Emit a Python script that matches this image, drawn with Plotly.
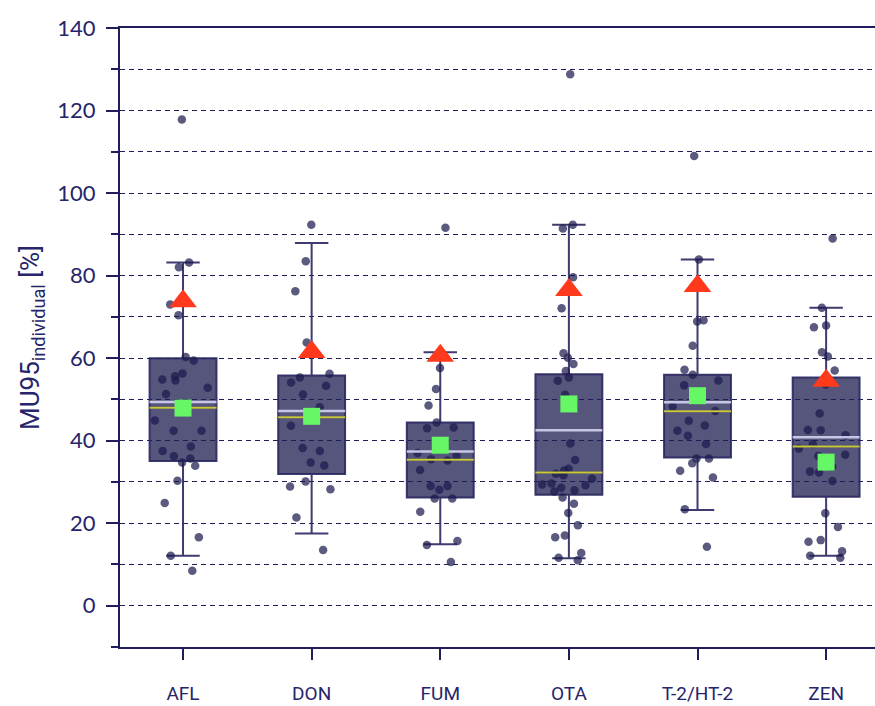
import plotly.graph_objects as go

categories = ["AFL", "DON", "FUM", "OTA", "T-2/HT-2", "ZEN"]

points = {
    "AFL": [117.8, 83.2, 82.0, 74.4, 73.0, 70.4, 60.3, 59.4, 56.3, 55.6, 54.8, 54.6, 52.8, 51.3,
            44.9, 42.4, 42.4, 38.6, 37.5, 36.2, 35.7, 34.7, 33.9, 30.3, 24.9, 16.6, 12.1, 8.5],
    "DON": [92.3, 83.5, 76.2, 63.8, 56.2, 55.3, 54.1, 53.3, 51.2, 48.1, 43.6, 38.2, 37.5, 34.7,
            34.0, 30.1, 28.9, 28.2, 21.4, 13.5],
    "FUM": [91.6, 57.6, 52.5, 48.5, 44.4, 43.2, 43.0, 37.0, 36.3, 35.5, 35.2, 32.9, 29.0, 29.0,
            28.1, 26.0, 26.0, 22.8, 15.7, 14.7, 10.6],
    "OTA": [128.8, 92.3, 91.4, 79.6, 72.1, 61.2, 60.1, 58.6, 56.9, 55.3, 54.5, 51.1, 39.3, 35.3,
            33.2, 32.8, 32.0, 31.6, 30.8, 29.6, 29.4, 29.2, 28.6, 28.0, 27.7, 26.2, 24.7, 22.5,
            19.5, 17.0, 16.6, 12.8, 11.6, 11.0],
    "T-2/HT-2": [109.0, 83.9, 69.2, 68.9, 63.0, 57.2, 56.0, 54.6, 53.4, 48.3, 47.2, 44.8, 43.7,
                 42.4, 41.2, 39.2, 35.7, 35.7, 34.5, 32.7, 31.1, 23.4, 14.3],
    "ZEN": [89.0, 72.2, 67.9, 67.5, 61.4, 60.4, 57.0, 53.6, 46.6, 42.6, 42.5, 41.3, 39.2, 38.1,
            36.6, 36.3, 33.7, 32.5, 32.3, 30.2, 22.4, 19.1, 15.9, 15.5, 13.2, 12.1, 11.6],
}

q1 = [35.1, 31.9, 26.2, 26.9, 35.9, 26.4]
q3 = [60.0, 55.8, 44.4, 56.1, 56.0, 55.3]
lower_whisker = [12.1, 17.5, 14.9, 11.5, 23.2, 12.1]
upper_whisker = [83.2, 87.9, 61.4, 92.3, 83.9, 72.2]
median = [48.0, 45.7, 35.4, 32.3, 47.1, 38.6]        # yellow line
mean = [49.4, 47.2, 37.4, 42.5, 49.3, 40.8]          # lavender line
green_square = [47.9, 45.9, 38.9, 48.9, 50.9, 34.8]
red_triangle = [73.8, 61.5, 60.6, 76.5, 77.5, 54.5]

y_ticks = [0, 20, 40, 60, 80, 100, 120, 140]

NAVY = "#1f1d5c"
TEXT = "#26246a"
BOX_FILL = "rgba(30,28,80,0.75)"
BOX_LINE = "rgba(40,38,95,0.9)"
PT = "rgba(28,26,78,0.72)"
BOX_W = 0.52

xs = list(range(len(categories)))
fig = go.Figure()

for i, c in enumerate(categories):
    fig.add_trace(go.Box(
        x=[i], q1=[q1[i]], q3=[q3[i]], median=[median[i]],
        lowerfence=[lower_whisker[i]], upperfence=[upper_whisker[i]],
        width=BOX_W, whiskerwidth=0.5, fillcolor=BOX_FILL,
        line=dict(color=BOX_LINE, width=2), boxpoints=False,
        showlegend=False, hoverinfo="skip",
    ))

def seg(vals):
    xx, yy = [], []
    for i, v in enumerate(vals):
        xx += [i - BOX_W / 2, i + BOX_W / 2, None]
        yy += [v, v, None]
    return xx, yy

mx, my = seg(mean)
fig.add_trace(go.Scatter(x=mx, y=my, mode="lines",
                         line=dict(color="rgba(205,205,235,0.95)", width=2.5),
                         showlegend=False, hoverinfo="skip"))
dx, dy = seg(median)
fig.add_trace(go.Scatter(x=dx, y=dy, mode="lines",
                         line=dict(color="#c9c93a", width=2),
                         showlegend=False, hoverinfo="skip"))

for i, c in enumerate(categories):
    fig.add_trace(go.Box(
        x=[i] * len(points[c]), y=points[c], width=BOX_W,
        boxpoints="all", jitter=0.9, pointpos=0,
        fillcolor="rgba(0,0,0,0)", line=dict(color="rgba(0,0,0,0)", width=0),
        marker=dict(color=PT, size=8.5),
        showlegend=False, hoverinfo="skip",
    ))

fig.add_trace(go.Scatter(x=xs, y=green_square, mode="markers",
                         marker=dict(symbol="square", size=17, color="#66f766"),
                         showlegend=False, hoverinfo="skip"))
fig.add_trace(go.Scatter(x=xs, y=red_triangle, mode="markers",
                         marker=dict(symbol="triangle-up", size=24, color="#ff3a1c"),
                         showlegend=False, hoverinfo="skip"))

fig.update_layout(
    width=875, height=706,
    margin=dict(l=120, r=0, t=28, b=59),
    paper_bgcolor="white", plot_bgcolor="white",
    boxmode="overlay",
    font=dict(family="Roboto", color=TEXT),
)
fig.update_xaxes(
    range=[-0.49, 5.38], tickvals=xs, ticktext=categories,
    showline=True, linecolor=NAVY, linewidth=2, mirror=True,
    ticks="outside", ticklen=11, tickwidth=2, tickcolor=NAVY,
    ticklabelstandoff=17, automargin=False,
    tickfont=dict(family="Roboto", size=19, color=TEXT),
    showgrid=False, zeroline=False,
)
fig.update_yaxes(
    range=[-10, 140], tickvals=y_ticks,
    showline=True, linecolor=NAVY, linewidth=2,
    ticks="outside", ticklen=12, tickwidth=2, tickcolor=NAVY,
    ticklabelstandoff=6, automargin=False,
    tickfont=dict(family="Lato", size=22, color=TEXT),
    showgrid=True, gridcolor=NAVY, gridwidth=1, griddash="5px,4px",
    zeroline=False,
    minor=dict(dtick=10, tick0=0, ticks="outside", ticklen=7, tickwidth=2, tickcolor=NAVY,
               showgrid=True, gridcolor=NAVY, gridwidth=1, griddash="5px,4px"),
    title=dict(text="MU95<sub>individual</sub> [%]", standoff=10,
               font=dict(family="Roboto", size=26, color=TEXT)),
)

fig.write_html("out.html")
